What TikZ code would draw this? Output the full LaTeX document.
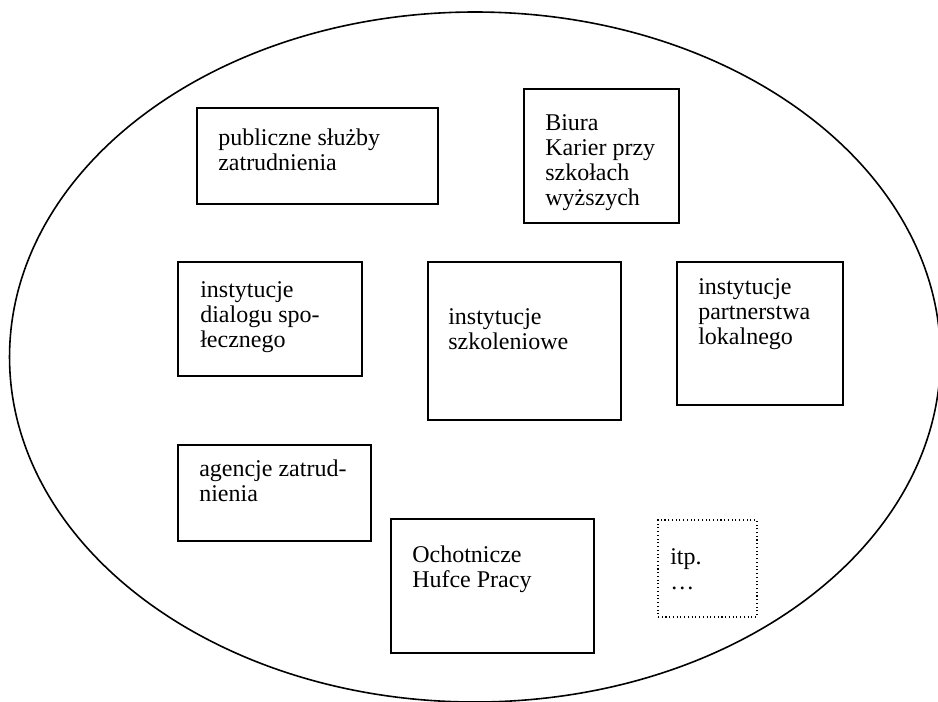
\documentclass[tikz,border=0pt]{standalone}
\usepackage{fontspec}
\setmainfont{Liberation Serif}
\usetikzlibrary{fit}

\tikzset{
  box/.style={draw, line width=1.2pt, inner sep=0pt},
  etcbox/.style={draw, dotted, line width=0.8pt, inner sep=0pt},
  txt/.style={anchor=north west, inner sep=0pt, align=left,
              font=\fontsize{18}{18.8}\selectfont}
}

\begin{document}
\begin{tikzpicture}[x=0.75pt,y=-0.75pt]
\useasboundingbox (0,0) rectangle (938,701);
% outline
\draw[line width=1.2pt] (475,357) ellipse [x radius=349.1pt, y radius=258.75pt];
% top row
\node[box, fit={(197,108) (438,204)}] (psz) {};
\node[txt] at (218,129) {publiczne służby\\zatrudnienia};
\node[box, fit={(524,89) (679,223)}] (bk) {};
\node[txt] at (545,114.5) {Biura\\Karier przy\\szkołach\\wyższych};
% middle row
\node[box, fit={(178,262) (362,376)}] (ids) {};
\node[txt] at (200,281.5) {instytucje\\dialogu spo-\\łecznego};
\node[box, fit={(428,262) (621,420)}] (szk) {};
\node[txt] at (448,308.5) {instytucje\\szkoleniowe};
\node[box, fit={(677,262) (843,405)}] (lok) {};
\node[txt] at (698,278.5) {instytucje\\partnerstwa\\lokalnego};
% bottom row
\node[box, fit={(178,445) (371,541)}] (agz) {};
\node[txt] at (199,459.5) {agencje zatrud-\\nienia};
\node[box, fit={(391,519) (594,653)}] (ohp) {};
\node[txt] at (412,545.5) {Ochotnicze\\Hufce Pracy};
\node[etcbox, fit={(658,520) (757,617)}] (itp) {};
\node[txt] at (670,548.5) {itp.\\…};
\end{tikzpicture}
\end{document}
